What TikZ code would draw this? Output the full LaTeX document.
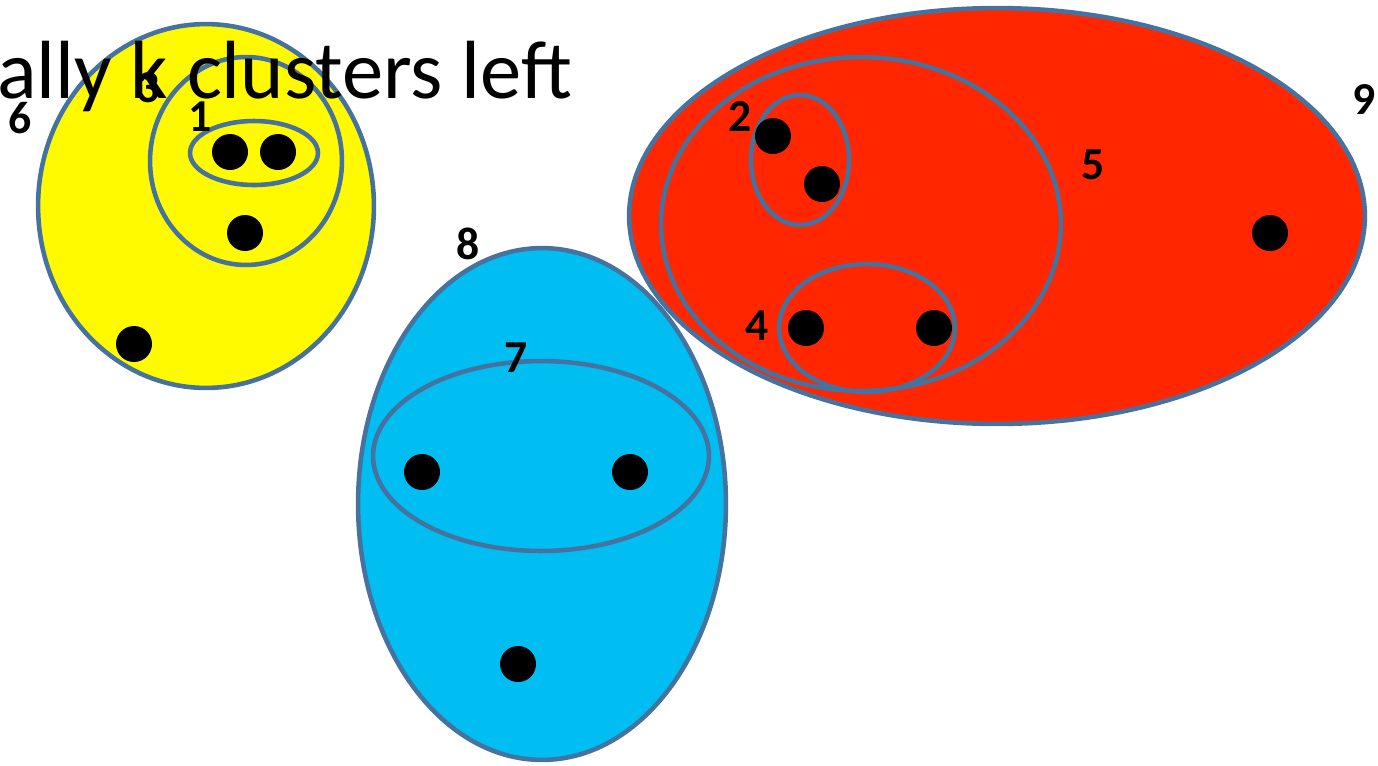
\documentclass[tikz,border=0pt]{standalone}
\usepackage{fontspec}
\setmainfont{Carlito}
\usetikzlibrary{shapes.geometric}
\definecolor{edge}{RGB}{70,114,160}
\definecolor{cyel}{RGB}{255,250,0}
\definecolor{cblue}{RGB}{0,190,242}
\definecolor{cred}{RGB}{255,38,0}
\tikzset{
  clus/.style={ellipse, draw=edge, line width=2.6pt, inner sep=0pt},
  ew/.style 2 args={minimum width=#1*0.04cm, minimum height=#2*0.04cm},
  pt/.style={circle, fill=black, inner sep=0pt, minimum size=36*0.02cm},
  lab/.style={font=\bfseries\fontsize{26}{28}\selectfont, inner sep=0pt},
}
\begin{document}
\begin{tikzpicture}[x=0.02cm,y=-0.02cm]
\useasboundingbox (0,0) rectangle (1378,765);
\clip (0,0) rectangle (1378,765);
% big clusters
\node[clus, fill=cyel, ew={168}{182}] (c6) at (206,206) {};
\node[clus, fill=cblue, ew={184}{256}] (c8) at (542,504) {};
\node[clus, fill=cred, ew={368}{208}] (c9) at (997,216) {};
% inner clusters
\node[clus, ew={96}{104}] (c3) at (246,161) {};
\node[clus, ew={64}{32}] (c1) at (254,153) {};
\node[clus, ew={168}{95}] (c7) at (541,456) {};
\node[clus, ew={200}{167}] (c5) at (861,224) {};
\node[clus, ew={49}{65}] (c2) at (800,160) {};
\node[clus, ew={88}{64}] (c4) at (867,328) {};
% points
\node[pt] (p1) at (230,152) {};
\node[pt] (p2) at (278,152) {};
\node[pt] (p3) at (245,233) {};
\node[pt] (p4) at (134,344) {};
\node[pt] (p5) at (422,472) {};
\node[pt] (p6) at (630,472) {};
\node[pt] (p7) at (518,664) {};
\node[pt] (p8) at (773,136) {};
\node[pt] (p9) at (822,184) {};
\node[pt] (p10) at (806,328) {};
\node[pt] (p11) at (934,328) {};
\node[pt] (p12) at (1270,233) {};
% title
\node[anchor=base west, inner sep=0pt, font=\fontsize{47}{56}\selectfont] (title) at (-3,98) {ally k clusters left};
% labels
\node[lab] (l6) at (20,118) {6};
\node[lab] (l3) at (148,88) {3};
\node[lab] (l1) at (200,117) {1};
\node[lab] (l8) at (468,244) {8};
\node[lab] (l7) at (516,358) {7};
\node[lab] (l2) at (740,117) {2};
\node[lab] (l4) at (757,326) {4};
\node[lab] (l5) at (1093,165) {5};
\node[lab] (l9) at (1364,100) {9};
\end{tikzpicture}
\end{document}
